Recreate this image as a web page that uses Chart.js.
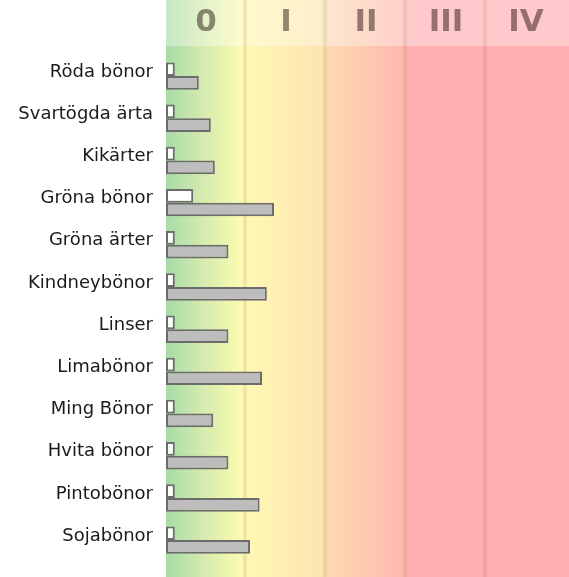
<!DOCTYPE html>
<html><head><meta charset="utf-8">
<script src="https://cdn.jsdelivr.net/npm/chart.js@4"></script>
<style>html,body{margin:0;padding:0;background:#fff}#wrap{width:569px;height:577px;position:relative}</style>
</head><body><div id="wrap"><canvas id="c" width="569" height="577"></canvas></div>
<script>
const categories = ['Röda bönor','Svartögda ärta','Kikärter','Gröna bönor','Gröna ärter','Kindneybönor','Linser','Limabönor','Ming Bönor','Hvita bönor','Pintobönor','Sojabönor'];
const whiteValues = [0.11,0.11,0.11,0.34,0.11,0.11,0.11,0.11,0.11,0.11,0.11,0.11];
const greyValues = [0.41,0.56,0.61,1.35,0.78,1.26,0.78,1.20,0.59,0.78,1.17,1.05];
const classLabels = ['0','I','II','III','IV'];

const bgPlugin = {
  id: 'bg',
  beforeDraw(chart) {
    const {ctx, chartArea, scales} = chart;
    const left = chartArea.left, right = chartArea.right;
    const W = chart.width, H = chart.height;
    const x = scales.x;
    ctx.save();
    const g = ctx.createLinearGradient(left, 0, right, 0);
    g.addColorStop(0, '#a8dba8');
    g.addColorStop(0.09, '#d4eaae');
    g.addColorStop(0.19, '#fcfcb0');
    g.addColorStop(0.2, '#fff8b4');
    g.addColorStop(0.4, '#fee3b0');
    g.addColorStop(0.401, '#fddbb2');
    g.addColorStop(0.6, '#ffb6b0');
    g.addColorStop(0.601, '#ffafb1');
    g.addColorStop(1, '#ffadb0');
    ctx.fillStyle = g;
    ctx.fillRect(left, 0, W - left, H);
    ctx.fillStyle = 'rgba(255,255,255,0.34)';
    ctx.fillRect(left, 0, W - left, 46);
    ctx.strokeStyle = 'rgba(140,100,60,0.13)';
    ctx.lineWidth = 4;
    for (let i = 1; i < classLabels.length; i++) {
      const px = Math.round(x.getPixelForValue(i)) - 1;
      ctx.beginPath(); ctx.moveTo(px, 0); ctx.lineTo(px, H); ctx.stroke();
    }
    ctx.globalCompositeOperation = 'multiply';
    ctx.fillStyle = 'rgb(150,140,140)';
    ctx.font = 'bold 31px "DejaVu Sans"';
    ctx.textAlign = 'center';
    ctx.textBaseline = 'middle';
    classLabels.forEach((t, i) => {
      ctx.fillText(t, x.getPixelForValue(i + 0.5), 23);
    });
    ctx.restore();
  }
};

new Chart(document.getElementById('c'), {
  type: 'bar',
  data: {
    labels: categories,
    datasets: [
      {data: whiteValues, backgroundColor: '#ffffff', borderColor: '#6c6c6c', borderWidth: 2, borderSkipped: false},
      {data: greyValues, backgroundColor: '#bdbdbd', borderColor: '#6c6c6c', borderWidth: 2, borderSkipped: false}
    ]
  },
  options: {
    indexAxis: 'y',
    responsive: false,
    animation: false,
    layout: {padding: {top: 55, bottom: -4, right: 3, left: 0}},
    categoryPercentage: 0.65,
    barPercentage: 1.0,
    plugins: {legend: {display: false}, tooltip: {enabled: false}},
    scales: {
      x: {min: 0, max: 5, display: false},
      y: {
        grid: {display: false},
        border: {display: false},
        ticks: {padding: 5, labelOffset: -4, color: '#1a1a1a', font: {family: '"DejaVu Sans"', size: 18}},
        afterFit(s) { s.width = 166; }
      }
    }
  },
  plugins: [bgPlugin]
});
</script>
</body></html>
